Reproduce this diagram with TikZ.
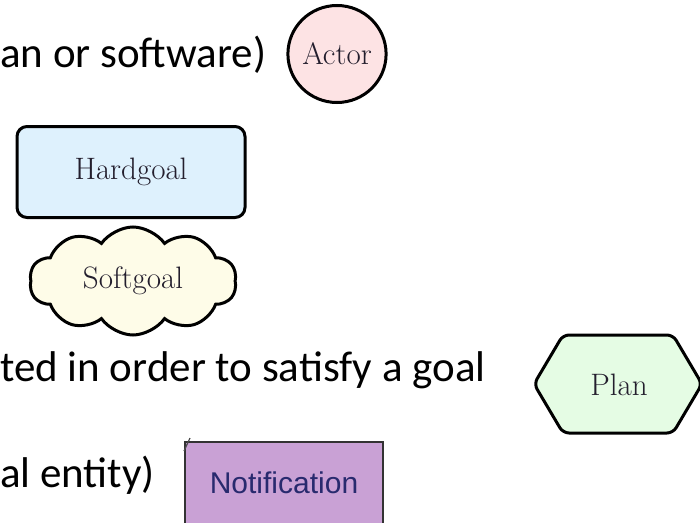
\documentclass[tikz,border=0pt]{standalone}
\usepackage{fontspec}
\newfontfamily\slidefont{Carlito}
\newfontfamily\notefont{Liberation Sans}
\definecolor{actorfill}{RGB}{253, 227, 228}
\definecolor{hardfill}{RGB}{222, 241, 253}
\definecolor{softfill}{RGB}{254, 252, 232}
\definecolor{planfill}{RGB}{229, 252, 228}
\definecolor{notefill}{RGB}{201, 161, 213}
\definecolor{notetext}{RGB}{40, 42, 110}
\definecolor{labeltext}{RGB}{35, 30, 45}
\usetikzlibrary{shapes.symbols, shapes.geometric, calc}
\tikzset{
    slidetext/.style={anchor=base west, inner sep=0pt,
        font=\slidefont\fontsize{43}{50}\selectfont},
    elemlabel/.style={font=\fontsize{31}{34}\selectfont, text=labeltext},
    elemline/.style={draw=black, line width=3pt},
}

\begin{document}
\begin{tikzpicture}[x=1pt, y=-1pt]
    \useasboundingbox (0, 0) rectangle (700, 522);
    % descriptions on the left, cut at the edge
    \node[slidetext] (actordesc) at (0, 67) {an or software)};
    \node[slidetext] (plandesc) at (0, 381) {ted in order to satisfy a goal};
    \node[slidetext] (notedesc) at (0, 487) {al entity)};
    % the elements
    \node[elemline, fill=actorfill, ellipse, minimum width=94pt,
        minimum height=97pt, inner sep=0pt, elemlabel] (actor) at (337, 54)
        {Actor};
    \node[elemline, fill=hardfill, rounded corners=10pt, minimum width=228pt,
        minimum height=91pt, elemlabel] (hardgoal) at (131, 172) {Hardgoal};
    \node[elemline, fill=softfill, cloud, cloud puffs=10, cloud puff arc=110,
        aspect=1.9, minimum width=207pt, minimum height=108pt, inner sep=0pt,
        elemlabel] (softgoal) at (133, 281) {Softgoal};
    \draw[elemline, fill=planfill, rounded corners=6pt] (534, 384) -- (563, 335)
        -- (673, 335) -- (702, 384) -- (673, 433) -- (563, 433) -- cycle;
    \node[elemlabel] (plan) at (619, 385) {Plan};
    \node[draw=black!80, line width=2pt, fill=notefill, minimum width=198pt,
        minimum height=90pt, anchor=north west, inner sep=0pt] (notification)
        at (184, 441) {};
    \node[font=\notefont\fontsize{30}{34}\selectfont, text=notetext]
        (notelabel) at (284, 483) {Notification};
    \draw[black!70, line width=1.2pt] (notification.north west) ++(0, 10) -- ++(6, -13);
\end{tikzpicture}
\end{document}
